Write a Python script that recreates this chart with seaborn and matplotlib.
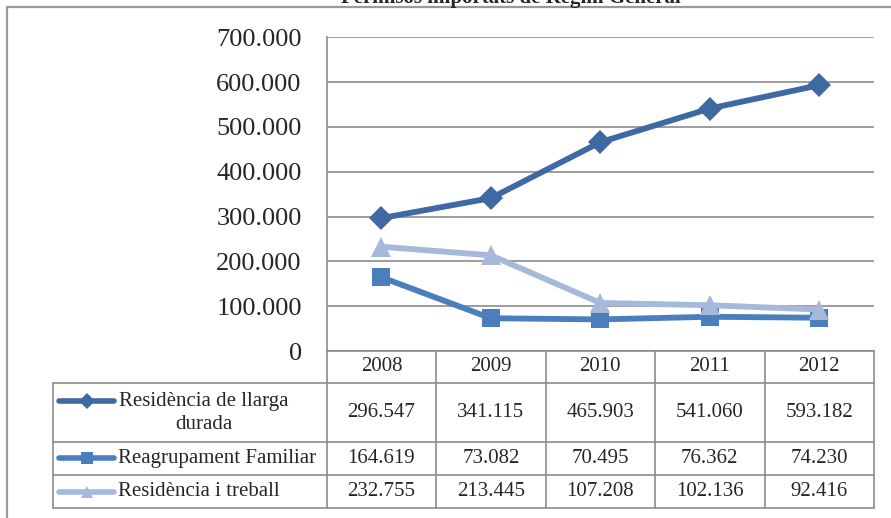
import matplotlib
matplotlib.use("Agg")
import matplotlib.pyplot as plt
from matplotlib.lines import Line2D
import numpy as np
import pandas as pd
import seaborn as sns

# data
years = ["2008", "2009", "2010", "2011", "2012"]
series_names = ["Residència de llarga\ndurada", "Reagrupament Familiar", "Residència i treball"]
llarga_durada = [296547, 341115, 465903, 541060, 593182]
reagrupament = [164619, 73082, 70495, 76362, 74230]
treball = [232755, 213445, 107208, 102136, 92416]
y_ticks = [0, 100000, 200000, 300000, 400000, 500000, 600000, 700000]
title = "Permisos importats de Règim General"

COLORS = ["#3E69A3", "#4A7EBD", "#A7B9DB"]
MARKERS = ["D", "s", "^"]
MSIZES = [12, 13, 14]
GRID = "#8C8C8C"


def fmt(v):
    return f"{v:,}".replace(",", ".")


sns.set_style("white")
plt.rcParams["font.family"] = ["Liberation Serif", "DejaVu Serif"]

W, H = 891, 518
fig = plt.figure(figsize=(W / 100, H / 100), dpi=100)


def fx(px):
    return px / W


def fy(py):
    return 1 - py / H


# plot area
x_left, x_right = 326.7, 874
y_top, y_bot = 37.3, 351
ax = fig.add_axes([fx(x_left), fy(y_bot), fx(x_right) - fx(x_left), fy(y_top) - fy(y_bot)])

values = [llarga_durada, reagrupament, treball]
df = pd.DataFrame({
    "x": np.tile(np.arange(len(years)), 3),
    "valor": np.concatenate(values),
    "serie": np.repeat(range(3), len(years)),
})
for i in range(3):
    sub = df[df["serie"] == i]
    sns.lineplot(data=sub, x="x", y="valor", ax=ax, color=COLORS[i], linewidth=4.2,
                 marker=MARKERS[i], markersize=MSIZES[i], markeredgewidth=0,
                 zorder=3 + i)

ax.set_xlim(-0.5, len(years) - 0.5)
ax.set_ylim(y_ticks[0], y_ticks[-1])
ax.set_yticks(y_ticks)
ax.set_yticklabels([fmt(t) for t in y_ticks], fontsize=19)
ax.set_xticks([])
ax.set_xlabel("")
ax.set_ylabel("")
ax.tick_params(axis="y", length=0, pad=18)
ax.grid(axis="y", color=GRID, linewidth=1.2)
ax.set_axisbelow(True)
for s in ["top", "right"]:
    ax.spines[s].set_visible(False)
ax.spines["left"].set_color(GRID)
ax.spines["left"].set_linewidth(1.2)
ax.spines["bottom"].set_color(GRID)
ax.spines["bottom"].set_linewidth(1.2)


def hline(y, x0, x1, lw=1.2):
    fig.add_artist(Line2D([fx(x0), fx(x1)], [fy(y), fy(y)], color=GRID, linewidth=lw))


def vline(x, y0, y1, lw=1.2):
    fig.add_artist(Line2D([fx(x), fx(x)], [fy(y0), fy(y1)], color=GRID, linewidth=lw))


# data table
col_w = (x_right - x_left) / len(years)
cols = [x_left + i * col_w for i in range(len(years) + 1)]
tab_left = 52.7
rows = [351, 382.7, 441.5, 475, 508]

for r in rows[1:]:
    hline(r, tab_left, x_right)
for c in cols:
    vline(c, rows[0], rows[-1])
vline(tab_left, rows[1], rows[-1])

for i, yr in enumerate(years):
    fig.text(fx(cols[i] + col_w / 2), fy((rows[0] + rows[1]) / 2), yr,
             ha="center", va="center", fontsize=15)

for r in range(3):
    yc = (rows[r + 1] + rows[r + 2]) / 2
    for i in range(len(years)):
        fig.text(fx(cols[i] + col_w / 2), fy(yc), fmt(values[r][i]),
                 ha="center", va="center", fontsize=15)
    # legend key
    ky = yc - 11 if r == 0 else yc
    fig.add_artist(Line2D([fx(59), fx(114)], [fy(ky), fy(ky)], color=COLORS[r],
                          linewidth=4, solid_capstyle="round"))
    fig.add_artist(Line2D([fx(86.5)], [fy(ky)], color=COLORS[r], marker=MARKERS[r],
                          markersize=8, markeredgewidth=0, linestyle="none"))
    if r == 0:
        fig.text(fx(204), fy(yc + 1), series_names[r], ha="center", va="center",
                 fontsize=15, linespacing=1.3, multialignment="center")
    else:
        fig.text(fx(118), fy(yc), series_names[r], ha="left", va="center", fontsize=15)

# outer chart border (cut at the right and bottom)
fig.add_artist(Line2D([fx(7), fx(7)], [fy(7), 0], color="#9A9A9A", linewidth=1.6))
fig.add_artist(Line2D([fx(7), 1], [fy(7), fy(7)], color="#9A9A9A", linewidth=1.6))

# title, clipped by the top edge as in the source
fig.text(fx(681), fy(3), title, ha="right", va="baseline", fontsize=15, fontweight="bold")

fig.savefig("out.png", dpi=100)
